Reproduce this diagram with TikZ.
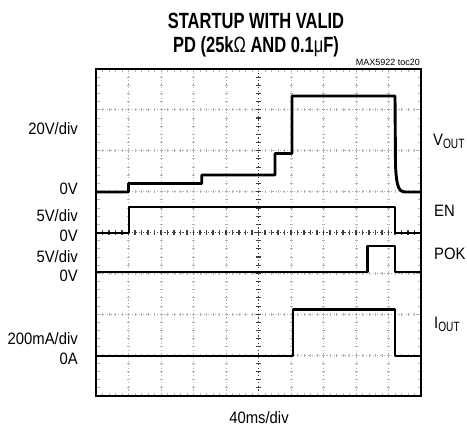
\documentclass[tikz,border=0pt]{standalone}
\usepackage{fontspec}
\setmainfont[FakeStretch=0.9]{Liberation Sans}
\newfontfamily\titlefont[FakeStretch=0.75]{Liberation Sans}
\newfontfamily\plainfont{Liberation Sans}
\begin{document}
\begin{tikzpicture}[x=1pt,y=-1pt,
  trace/.style={line width=2.9pt, line join=round, black},
  gridline/.style={gray!60, line width=1pt, dash pattern=on 1.2pt off 2.4pt},
  gtick/.style={gray!60, line width=0.9pt},
  ctick/.style={black!75, line width=1.1pt},
  lab/.style={font=\fontsize{16.5}{16.5}\selectfont, inner sep=0pt},
  sub/.style={},
  ttl/.style={font=\titlefont\bfseries\fontsize{22}{22}\selectfont, inner sep=0pt}]
\useasboundingbox (0,0) rectangle (467,428);
\fill[white] (0,0) rectangle (467,428);
% grid
\foreach \k in {1,2,3,4,6,7,8,9} {
  \draw[gridline] ({96+32.5*\k},69) -- ({96+32.5*\k},396);
  \foreach \j in {1,...,39} \draw[gtick] ({96+32.5*\k-1.5},{69+40.875*\j/5}) -- ++(3,0);
}
\foreach \k in {1,2,3,5,6,7} {
  \draw[gridline] (96,{69+40.875*\k}) -- (421,{69+40.875*\k});
  \foreach \j in {1,...,49} \draw[gtick] ({96+6.5*\j},{69+40.875*\k-1.5}) -- ++(0,3);
}
% centre lines
\draw[gridline,black!75] (258.5,69) -- (258.5,396);
\foreach \j in {1,...,39} \draw[ctick] (256,{69+40.875*\j/5}) -- ++(5,0);
\draw[gridline,black!75] (96,232.5) -- (421,232.5);
\foreach \j in {1,...,49} \draw[ctick] ({96+6.5*\j},230) -- ++(0,5);
% frame ticks
\foreach \j in {1,...,49} {
  \draw[gtick] ({96+6.5*\j},69) -- ++(0,3.5);
  \draw[gtick] ({96+6.5*\j},396) -- ++(0,-3.5);
}
\foreach \j in {1,...,39} {
  \draw[gtick] (96,{69+40.875*\j/5}) -- ++(3.5,0);
  \draw[gtick] (421,{69+40.875*\j/5}) -- ++(-3.5,0);
}
\draw[line width=2.4pt] (96,69) rectangle (421,396);
% traces
\draw[trace] (96,192) -- (128.5,192) -- (128.5,183.5) -- (201.7,183.5) -- (201.7,175)
  -- (275,175) -- (275,153.5) -- (292,153.5) -- (292,96) -- (395,96) -- (395.5,165)
  .. controls (396.5,188) and (399,192) .. (406,192) -- (421,192);
\draw[trace] (96,233) -- (129,233) -- (129,207) -- (395,207) -- (395,233) -- (421,233);
\draw[trace] (96,272) -- (367.5,272) -- (367.5,246) -- (395,246) -- (395,272) -- (421,272);
\draw[trace] (96,356) -- (293,356) -- (293,309.5) -- (395,309.5) -- (395,356) -- (421,356);
% titles
\node[ttl, anchor=base] (t1) at (256,29) {STARTUP WITH VALID};
\node[ttl, anchor=base] (t2) at (256,53) {PD (25k{\mdseries Ω} AND 0.1{\mdseries μ}F)};
\node[inner sep=0pt, anchor=base east, font=\plainfont\fontsize{9}{9}\selectfont] (tag) at (420,66) {MAX5922 toc20};
% left labels
\node[lab, anchor=base east] (l1) at (78,135) {20V/div};
\node[lab, anchor=base east] (l2) at (78,195) {0V};
\node[lab, anchor=base east] (l3) at (78,221.5) {5V/div};
\node[lab, anchor=base east] (l4) at (78,241.5) {0V};
\node[lab, anchor=base east] (l5) at (78,262.5) {5V/div};
\node[lab, anchor=base east] (l6) at (78,281.5) {0V};
\node[lab, anchor=base east] (l7) at (78,344.5) {200mA/div};
\node[lab, anchor=base east] (l8) at (78,364.5) {0A};
% right labels
\node[lab, anchor=base west] (r1) at (433,146) {V\raisebox{-2.5pt}{\titlefont\fontsize{13.5}{13.5}\selectfont OUT}};
\node[lab, anchor=base west] (r2) at (434,217) {EN};
\node[lab, anchor=base west] (r3) at (434,260) {POK};
\node[lab, anchor=base west] (r4) at (434,329) {I\raisebox{-2.5pt}{\titlefont\fontsize{13.5}{13.5}\selectfont OUT}};
% x label
\node[lab, anchor=base] (xl) at (259,423) {40ms/div};
\end{tikzpicture}
\end{document}
